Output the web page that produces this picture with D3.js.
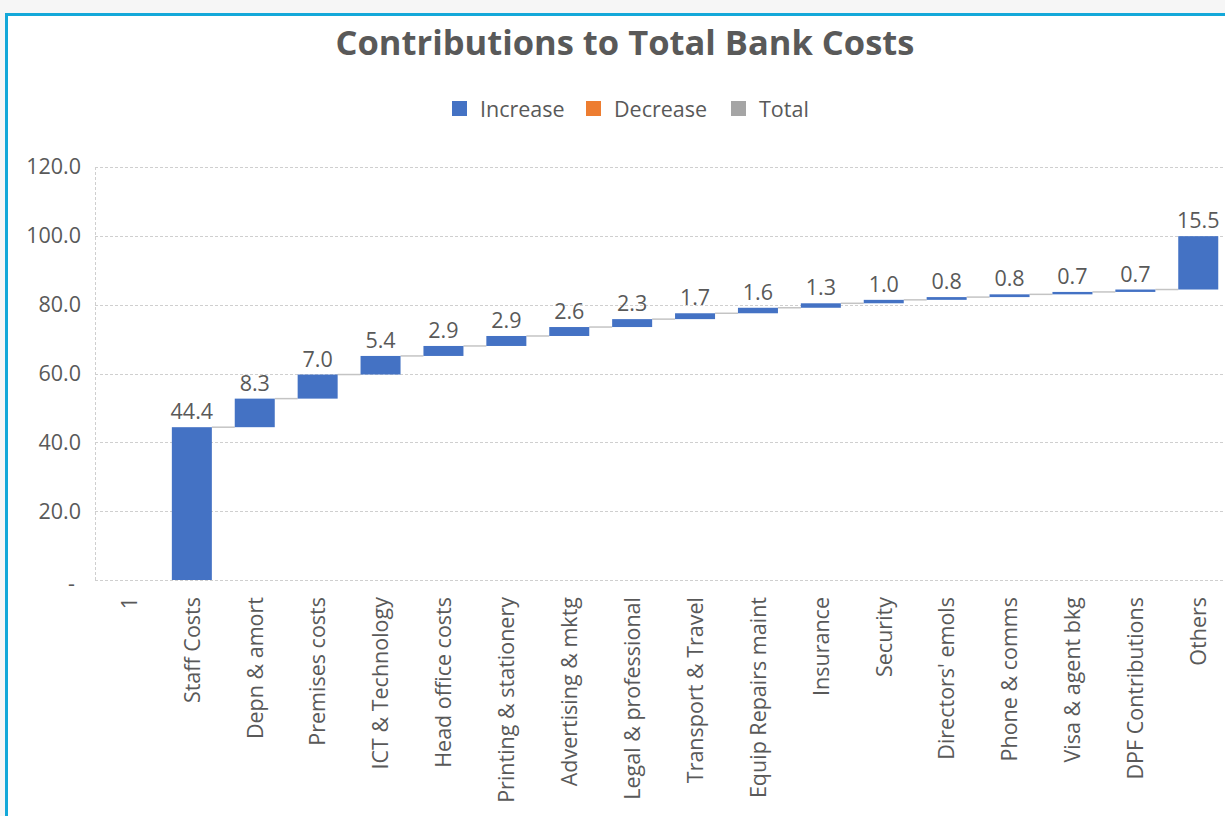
<!DOCTYPE html>
<html>
<head>
<meta charset="utf-8">
<script src="https://cdn.jsdelivr.net/npm/d3@7"></script>
<style>
  html, body { margin: 0; padding: 0; background: #f6f6f6; }
  svg { display: block; }
  text { font-family: "Open Sans", "Noto Sans", sans-serif; }
</style>
</head>
<body>
<svg id="chart" width="1225" height="816"></svg>
<script>
const categories = ["1", "Staff Costs", "Depn & amort", "Premises costs", "ICT & Technology",
  "Head office costs", "Printing & stationery", "Advertising & mktg", "Legal & professional",
  "Transport & Travel", "Equip Repairs maint", "Insurance", "Security", "Directors' emols",
  "Phone & comms", "Visa & agent bkg", "DPF Contributions", "Others"];
const values = [null, 44.4, 8.3, 7.0, 5.4, 2.9, 2.9, 2.6, 2.3, 1.7, 1.6, 1.3, 1.0, 0.8, 0.8, 0.7, 0.7, 15.5];
const yTicks = [0, 20, 40, 60, 80, 100, 120];
const legendLabels = ["Increase", "Decrease", "Total"];
const legendColors = ["#4472C4", "#ED7D31", "#A5A5A5"];
const title = "Contributions to Total Bank Costs";

const svg = d3.select("#chart");
const textColor = "#595959";
const fs = 21.5;

// frame
svg.append("rect").attr("x", 0).attr("y", 0).attr("width", 1225).attr("height", 816).attr("fill", "#f6f6f6");
svg.append("rect").attr("x", 6).attr("y", 14).attr("width", 1225).attr("height", 816).attr("fill", "#ffffff");
svg.append("line").attr("x1", 5).attr("x2", 1225).attr("y1", 14.5).attr("y2", 14.5)
  .attr("stroke", "#14a8d9").attr("stroke-width", 3);
svg.append("line").attr("x1", 6.5).attr("x2", 6.5).attr("y1", 13).attr("y2", 816)
  .attr("stroke", "#14a8d9").attr("stroke-width", 3);

// scales
const plotLeft = 95, plotRight = 1225, plotTop = 167, plotBottom = 580;
const x = d3.scaleBand().domain(categories).range([97.5, 97.5 + 18 * 62.9])
  .paddingInner(0.364).paddingOuter(0.182);
const y = d3.scaleLinear().domain([0, 120]).range([plotBottom, plotTop]);

// waterfall data
let cum = 0;
const bars = categories.map((c, i) => {
  const v = values[i];
  const start = cum;
  if (v != null) cum += v;
  return { cat: c, value: v, start: start, end: cum };
});

// title
svg.append("text").attr("x", 625).attr("y", 55).attr("text-anchor", "middle")
  .attr("font-size", 34.5).attr("font-weight", "bold").attr("fill", textColor).text(title);

// legend
const legendX = [452, 586, 731];
legendLabels.forEach((l, i) => {
  svg.append("rect").attr("x", legendX[i]).attr("y", 101).attr("width", 15).attr("height", 15)
    .attr("fill", legendColors[i]);
  svg.append("text").attr("x", legendX[i] + 28).attr("y", 117).attr("font-size", fs)
    .attr("fill", textColor).text(l);
});

// grid
const grid = svg.append("g");
yTicks.forEach(t => {
  grid.append("line").attr("x1", plotLeft).attr("x2", plotRight)
    .attr("y1", Math.round(y(t)) + 0.5).attr("y2", Math.round(y(t)) + 0.5)
    .attr("stroke", "#cfcfcf").attr("stroke-width", 1).attr("stroke-dasharray", "3,2");
});
grid.append("line").attr("x1", plotLeft + 0.5).attr("x2", plotLeft + 0.5)
  .attr("y1", plotTop).attr("y2", plotBottom)
  .attr("stroke", "#cfcfcf").attr("stroke-width", 1).attr("stroke-dasharray", "3,2");

// y axis labels
const yAxis = d3.axisLeft(y).tickValues(yTicks).tickSize(0).tickPadding(0)
  .tickFormat(d => d === 0 ? "-" : d3.format(".1f")(d));
const yg = svg.append("g").attr("transform", "translate(81,0)").call(yAxis);
yg.select(".domain").remove();
yg.selectAll("text").attr("font-size", fs).attr("fill", textColor)
  .attr("font-family", "'Open Sans', sans-serif");
yg.selectAll(".tick").filter(d => d === 0).select("text").attr("dx", -6).attr("dy", "0.5em");

// x axis labels
const xAxis = d3.axisBottom(x).tickSize(0).tickPadding(0);
const xg = svg.append("g").attr("transform", `translate(0,${plotBottom})`).call(xAxis);
xg.select(".domain").remove();
xg.selectAll("text")
  .attr("font-size", fs).attr("fill", textColor)
  .attr("font-family", "'Open Sans', sans-serif")
  .attr("transform", "rotate(-90)")
  .attr("text-anchor", "end")
  .attr("x", -17).attr("y", 0).attr("dy", "0.36em");

// connectors
const conn = svg.append("g");
for (let i = 1; i < bars.length - 1; i++) {
  const b = bars[i];
  if (b.value == null) continue;
  conn.append("line")
    .attr("x1", x(b.cat) + x.bandwidth()).attr("x2", x(bars[i + 1].cat))
    .attr("y1", y(b.end)).attr("y2", y(b.end))
    .attr("stroke", "#c4c4c4").attr("stroke-width", 1.5);
}

// bars
svg.append("g").selectAll("rect").data(bars.filter(d => d.value != null)).join("rect")
  .attr("x", d => x(d.cat)).attr("width", x.bandwidth())
  .attr("y", d => y(d.end)).attr("height", d => Math.max(1.5, y(d.start) - y(d.end)))
  .attr("fill", legendColors[0]);

// labels
svg.append("g").selectAll("text").data(bars.filter(d => d.value != null)).join("text")
  .attr("x", d => x(d.cat) + x.bandwidth() / 2).attr("y", d => y(d.end) - 8)
  .attr("text-anchor", "middle").attr("font-size", fs).attr("fill", textColor)
  .text(d => d3.format(".1f")(d.value));
</script>
</body>
</html>
